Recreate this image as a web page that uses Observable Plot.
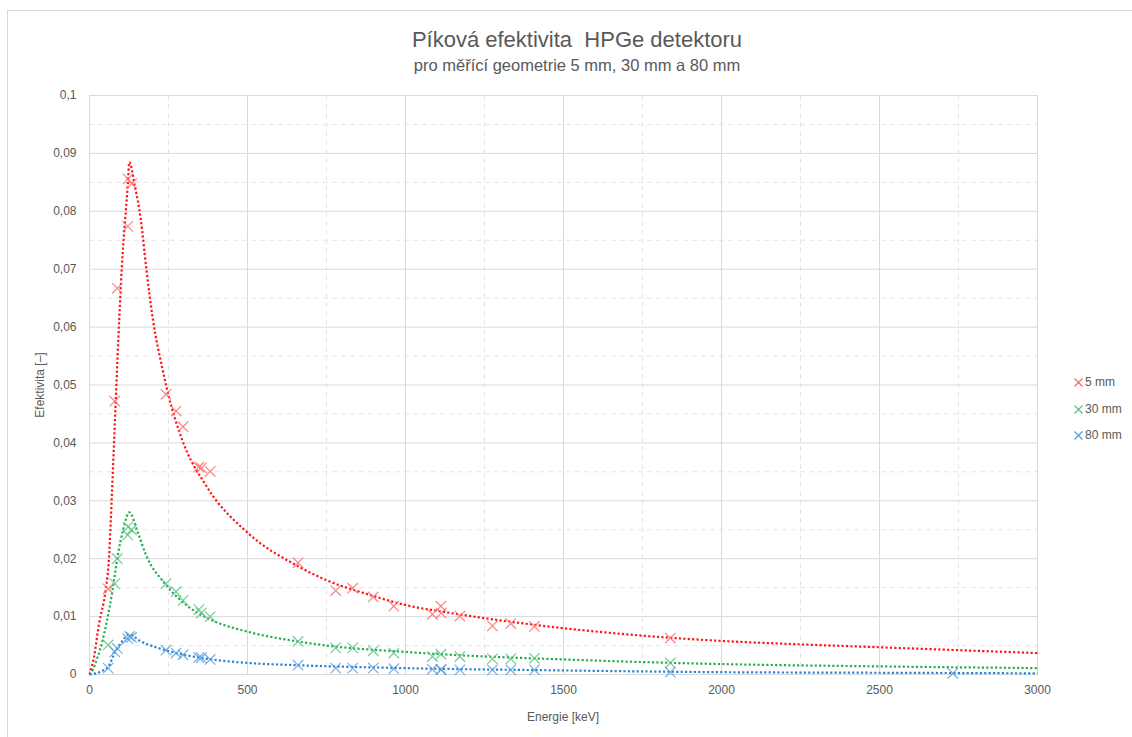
<!DOCTYPE html>
<html>
<head>
<meta charset="utf-8">
<script src="https://cdn.jsdelivr.net/npm/d3@7"></script>
<script src="https://cdn.jsdelivr.net/npm/@observablehq/plot@0.6"></script>
<style>
  html, body { margin: 0; padding: 0; background: #fff; }
  #wrap { position: relative; width: 1132px; height: 737px; font-family: "Liberation Sans", Arial, sans-serif; color: #595959; overflow: hidden; }
  #frame { position: absolute; left: 7px; top: 10px; width: 1130px; height: 740px; border: 1px solid #d9d9d9; box-sizing: border-box; }
  #title { position: absolute; left: 0; width: 1154px; top: 27px; text-align: center; font-size: 22px; }
  #subtitle { position: absolute; left: 0; width: 1154px; top: 56px; text-align: center; font-size: 16.5px; }
  #chart { position: absolute; left: 0; top: 80px; }
  #ylabel { position: absolute; left: 40px; top: 385px; transform: translate(-50%, -50%) rotate(-90deg); font-size: 12px; white-space: nowrap; }
  #xlabel { position: absolute; left: 563px; top: 710px; transform: translateX(-50%); font-size: 12px; }
  #legend { position: absolute; left: 1073px; top: 375px; font-size: 12px; }
  #legend div { height: 26.5px; display: flex; align-items: flex-start; }
  #legend svg { margin-right: 1px; margin-top: 2px; }
</style>
</head>
<body>
<div id="wrap">
  <div id="frame"></div>
  <div id="title">Píková efektivita&nbsp; HPGe detektoru</div>
  <div id="subtitle">pro měřící geometrie 5 mm, 30 mm a 80 mm</div>
  <div id="chart"></div>
  <div id="ylabel">Efektivita [–]</div>
  <div id="xlabel">Energie [keV]</div>
  <div id="legend"></div>
</div>
<script>
// ---- data ----
const seriesNames = ["5 mm", "30 mm", "80 mm"];
const seriesColors = ["#ff1414", "#25ad55", "#2c84d4"];
const markerColors = ["#ff6b6b", "#5cc283", "#5aa0e0"];

// measured points: energy [keV], efficiency
const e5 = [59, 80, 88, 121, 122, 133, 242, 274, 296, 346, 354, 382, 660, 779, 833, 898, 963, 1085, 1112, 1113, 1172, 1275, 1333, 1408, 1838];
const eff5 = [0.0148, 0.0472, 0.0667, 0.0774, 0.0856, 0.0848, 0.0484, 0.0455, 0.0428, 0.0358, 0.0357, 0.0351, 0.0193, 0.0145, 0.0149, 0.0134, 0.0118, 0.0104, 0.0118, 0.0106, 0.0101, 0.0084, 0.0088, 0.0083, 0.0063];

const e30 = [59, 80, 88, 121, 122, 133, 242, 274, 296, 346, 354, 382, 660, 779, 833, 898, 963, 1085, 1112, 1172, 1275, 1333, 1408, 1838];
const eff30 = [0.0051, 0.0157, 0.0200, 0.0241, 0.0255, 0.0250, 0.0157, 0.0143, 0.0128, 0.0112, 0.0106, 0.0100, 0.0057, 0.0046, 0.0046, 0.0041, 0.0037, 0.0031, 0.0035, 0.0031, 0.0027, 0.0027, 0.0028, 0.0020];

const e80 = [59, 80, 88, 121, 127, 133, 242, 274, 296, 346, 354, 382, 660, 779, 833, 898, 963, 1085, 1112, 1113, 1172, 1275, 1333, 1408, 1838, 2732];
const eff80 = [0.0011, 0.0039, 0.0045, 0.0062, 0.0066, 0.0064, 0.0042, 0.0037, 0.0034, 0.0029, 0.0029, 0.0026, 0.0016, 0.0011, 0.0011, 0.0011, 0.0010, 0.0009, 0.0008, 0.0009, 0.0008, 0.0008, 0.0008, 0.0008, 0.0004, 0.0002];

// fitted curves (dotted)
const fitE5 = [0, 14, 30, 51, 62, 67, 76, 83, 94, 105, 113, 121, 126, 143, 162, 180, 201, 232, 250, 290, 374, 500, 660, 750, 890, 1000, 1146, 1500, 1752, 2000, 2250, 2500, 2750, 3000];
const fitV5 = [0, 0.0030, 0.0087, 0.0146, 0.0204, 0.0262, 0.0379, 0.0472, 0.0612, 0.0729, 0.0787, 0.0845, 0.0885, 0.0845, 0.0787, 0.0700, 0.0612, 0.0525, 0.0482, 0.0410, 0.0322, 0.0245, 0.0187, 0.0163, 0.0137, 0.0120, 0.0106, 0.0080, 0.0067, 0.0058, 0.0052, 0.0047, 0.0042, 0.0037];

const fitE30 = [0, 10, 25, 41, 53, 73, 89, 107, 126, 153, 180, 237, 311, 395, 500, 660, 750, 1000, 1146, 1500, 2000, 2500, 3000];
const fitV30 = [0, 0.0008, 0.0029, 0.0058, 0.0087, 0.0146, 0.0204, 0.0251, 0.0280, 0.0245, 0.0205, 0.0158, 0.0118, 0.0092, 0.0074, 0.0057, 0.0050, 0.0039, 0.0034, 0.0026, 0.0018, 0.0014, 0.0011];

const fitE80 = [0, 20, 40, 59, 82, 100, 126, 160, 240, 300, 400, 500, 660, 1000, 1500, 2000, 2500, 3000];
const fitV80 = [0, 0.0002, 0.0006, 0.0013, 0.0040, 0.0055, 0.0069, 0.0058, 0.0042, 0.0034, 0.0025, 0.0020, 0.0016, 0.0011, 0.0007, 0.0004, 0.0003, 0.0002];

// axes
const xTicks = [0, 500, 1000, 1500, 2000, 2500, 3000];
const xTickLabels = ["0", "500", "1000", "1500", "2000", "2500", "3000"];
const xMinor = [250, 750, 1250, 1750, 2250, 2750];
const yTicks = [0, 0.01, 0.02, 0.03, 0.04, 0.05, 0.06, 0.07, 0.08, 0.09, 0.1];
const yTickLabels = ["0", "0,01", "0,02", "0,03", "0,04", "0,05", "0,06", "0,07", "0,08", "0,09", "0,1"];
const yMinor = [0.005, 0.015, 0.025, 0.035, 0.045, 0.055, 0.065, 0.075, 0.085, 0.095];

// ---- build tables ----
const pointSets = [[e5, eff5], [e30, eff30], [e80, eff80]];
const fitSets = [[fitE5, fitV5], [fitE30, fitV30], [fitE80, fitV80]];
const points = pointSets.flatMap(([xs, ys], i) => xs.map((x, j) => ({s: seriesNames[i], x, y: ys[j]})));
const fits = fitSets.flatMap(([xs, ys], i) => xs.map((x, j) => ({s: seriesNames[i], x, y: ys[j]})));

const gridStyle = {stroke: "#d9d9d9", strokeOpacity: 1, strokeWidth: 1};

const chart = Plot.plot({
  width: 1132,
  height: 657,
  marginLeft: 89,
  marginRight: 95,
  marginTop: 15,
  marginBottom: 63,
  style: {fontFamily: "'Liberation Sans', Arial, sans-serif", fontSize: "12px", color: "#595959", background: "transparent"},
  x: {domain: [0, 3000]},
  y: {domain: [0, 0.1]},
  color: {domain: seriesNames, range: seriesColors},
  marks: [
    Plot.gridX(xMinor, {...gridStyle, strokeDasharray: "5,4", stroke: "#e6e6e6"}),
    Plot.gridY(yMinor, {...gridStyle, strokeDasharray: "5,4", stroke: "#e6e6e6"}),
    Plot.gridX(xTicks, gridStyle),
    Plot.gridY(yTicks, gridStyle),
    Plot.axisX(xTicks, {tickSize: 0, tickPadding: 11, label: null, tickFormat: (d, i) => xTickLabels[i]}),
    Plot.axisY(yTicks, {tickSize: 0, tickPadding: 13, label: null, tickFormat: (d, i) => yTickLabels[i]}),
    Plot.line(fits, {x: "x", y: "y", z: "s", stroke: "s", strokeWidth: 2.2, strokeDasharray: "2.2,2.2", strokeLinecap: "butt", strokeLinejoin: "miter", curve: "monotone-x"}),
    Plot.dot(points, {x: "x", y: "y", symbol: "times", r: 4.8, stroke: d => markerColors[seriesNames.indexOf(d.s)], strokeWidth: 1.2, strokeOpacity: 0.85})
  ]
});
document.getElementById("chart").appendChild(chart);

// legend
const legend = document.getElementById("legend");
seriesNames.forEach((name, i) => {
  const row = document.createElement("div");
  row.innerHTML = `<svg width="11" height="11" viewBox="0 0 11 11"><path d="M1.5,1.5L9.5,9.5M9.5,1.5L1.5,9.5" stroke="${markerColors[i]}" stroke-width="1.3"/></svg><span>${name}</span>`;
  legend.appendChild(row);
});
</script>
</body>
</html>
